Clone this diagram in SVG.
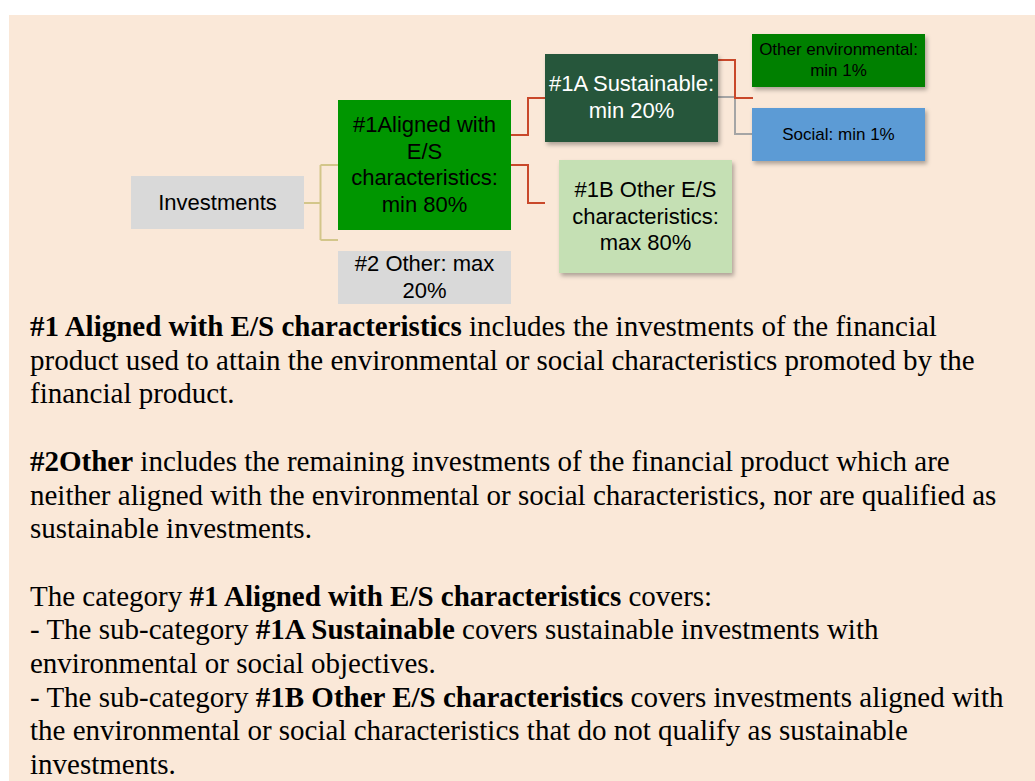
<svg xmlns="http://www.w3.org/2000/svg" width="1035" height="781" viewBox="0 0 1035 781">
<defs>
<filter id="sh" x="-10%" y="-10%" width="125%" height="130%">
<feDropShadow dx="2" dy="3" stdDeviation="2" flood-color="#000" flood-opacity="0.3"/>
</filter>
<style>
.d{font-family:"Liberation Sans",Arial,sans-serif;text-anchor:middle}
.m{font-size:22px}
.s{font-size:17px}
.b{font-family:"Liberation Serif","Times New Roman",serif;font-size:29px;fill:#000}
.bb{font-weight:bold}
.tan{fill:none;stroke:#D3C68A;stroke-width:2}
.red{fill:none;stroke:#C9482A;stroke-width:2}
.gry{fill:none;stroke:#A5A5A5;stroke-width:2}
</style>
</defs>
<rect x="0" y="0" width="1035" height="781" fill="#FFFFFF"/>
<rect x="9" y="15" width="1026" height="766" fill="#FAE8D8"/>

<g id="connectors">
<path class="tan" d="M304,203 H320.5 M320.5,165 V240 M320.5,165 H338 M320.5,240 H338"/>
<path class="red" d="M511,135 H528 V98 H545"/>
<path class="red" d="M511,165 H528 V203 H545"/>
<path class="gry" d="M717,97 H735 V134 H752"/>
<path class="red" d="M717,60 H735 V98 H753"/>
</g>

<g id="investments">
<rect x="131" y="176" width="173" height="53" fill="#D9D9D9"/>
<text class="d m" x="217.5" y="210" fill="#000">Investments</text>
</g>

<g id="aligned">
<rect x="338" y="100" width="173" height="130" fill="#009600"/>
<text class="d m" x="424.5" y="132" fill="#000">#1Aligned with</text>
<text class="d m" x="424.5" y="158.5" fill="#000">E/S</text>
<text class="d m" x="424.5" y="185" fill="#000">characteristics:</text>
<text class="d m" x="424.5" y="211.5" fill="#000">min 80%</text>
</g>

<g id="other">
<rect x="338" y="251" width="173" height="53" fill="#D9D9D9"/>
<text class="d m" x="424.5" y="271" fill="#000">#2 Other: max</text>
<text class="d m" x="424.5" y="298" fill="#000">20%</text>
</g>

<g id="sustainable">
<rect x="545" y="54" width="173" height="88" fill="#26573A" filter="url(#sh)"/>
<text class="d m" x="631.5" y="91" fill="#FFFFFF">#1A Sustainable:</text>
<text class="d m" x="631.5" y="117.5" fill="#FFFFFF">min 20%</text>
</g>

<g id="other-es">
<rect x="559" y="160" width="173" height="113" fill="#C5E0B4" filter="url(#sh)"/>
<text class="d m" x="645.5" y="197" fill="#000">#1B Other E/S</text>
<text class="d m" x="645.5" y="223.5" fill="#000">characteristics:</text>
<text class="d m" x="645.5" y="250" fill="#000">max 80%</text>
</g>

<g id="other-env">
<rect x="752" y="34" width="173" height="53" fill="#008000" filter="url(#sh)"/>
<text class="d s" x="838.5" y="55" fill="#000">Other environmental:</text>
<text class="d s" x="838.5" y="76" fill="#000">min 1%</text>
</g>

<g id="social">
<rect x="752" y="108" width="173" height="53" fill="#5B9BD5" filter="url(#sh)"/>
<text class="d s" x="838.5" y="139.5" fill="#000">Social: min 1%</text>
</g>

<g id="body-text">
<text class="b" x="30" y="336"><tspan class="bb">#1 Aligned with E/S characteristics</tspan> includes the investments of the financial</text>
<text class="b" x="30" y="369.7">product used to attain the environmental or social characteristics promoted by the</text>
<text class="b" x="30" y="403.4">financial product.</text>
<text class="b" x="30" y="470.8"><tspan class="bb">#2Other</tspan> includes the remaining investments of the financial product which are</text>
<text class="b" x="30" y="504.5">neither aligned with the environmental or social characteristics, nor are qualified as</text>
<text class="b" x="30" y="538.2">sustainable investments.</text>
<text class="b" x="30" y="605.6">The category <tspan class="bb">#1 Aligned with E/S characteristics</tspan> covers:</text>
<text class="b" x="30" y="639.3">- The sub-category <tspan class="bb">#1A Sustainable</tspan> covers sustainable investments with</text>
<text class="b" x="30" y="673">environmental or social objectives.</text>
<text class="b" x="30" y="706.7">- The sub-category <tspan class="bb">#1B Other E/S characteristics</tspan> covers investments aligned with</text>
<text class="b" x="30" y="740.4">the environmental or social characteristics that do not qualify as sustainable</text>
<text class="b" x="30" y="774.1">investments.</text>
</g>
</svg>
